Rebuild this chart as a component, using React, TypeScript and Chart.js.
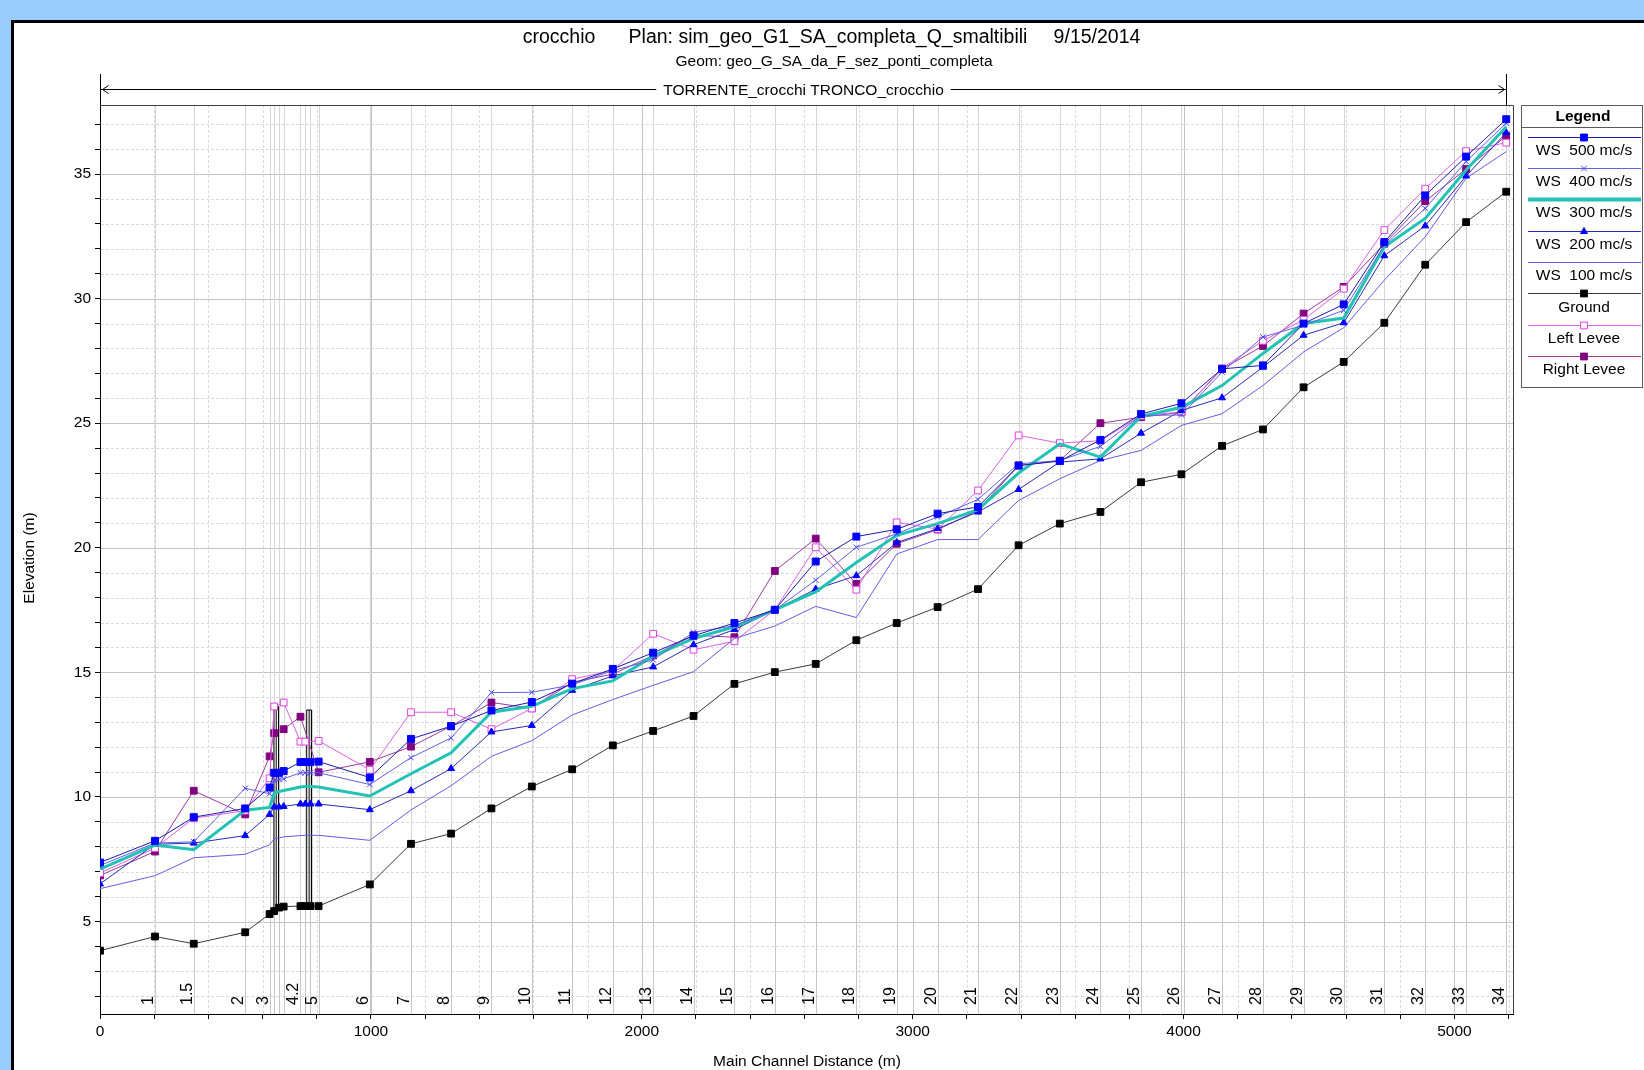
import React, { useEffect, useRef } from "react";
import { Chart, registerables } from "chart.js";

Chart.register(...registerables);

const FONT = "'Liberation Sans', Arial, sans-serif";

// ---------------- DATA ----------------
// Main channel distance of each river station (m)
const stations = [0, 203, 346, 536, 626, 643, 661, 678, 740, 758, 777, 807, 996, 1148, 1296, 1445, 1594, 1743, 1893, 2042, 2191, 2342, 2491, 2642, 2792, 2941, 3092, 3241, 3391, 3543, 3693, 3843, 3992, 4142, 4293, 4443, 4591, 4741, 4892, 5043, 5191];
const stationLabels = ["", "1", "1.5", "2", "3", "", "", "", "4.2", "", "", "5", "6", "7", "8", "9", "10", "11", "12", "13", "14", "15", "16", "17", "18", "19", "20", "21", "22", "23", "24", "25", "26", "27", "28", "29", "30", "31", "32", "33", "34"];

const ws500 = [7.37, 8.24, 9.19, 9.54, 10.38, 10.97, 10.97, 11.04, 11.40, 11.40, 11.40, 11.42, 10.78, 12.33, 12.84, 13.47, 13.81, 14.55, 15.14, 15.79, 16.47, 16.98, 17.51, 19.45, 20.45, 20.74, 21.37, 21.64, 23.30, 23.48, 24.33, 25.37, 25.80, 27.18, 27.32, 29.00, 29.77, 32.27, 34.14, 35.70, 37.20];
const ws400 = [7.25, 8.15, 8.20, 10.35, 10.13, 10.65, 10.70, 10.73, 10.97, 10.97, 10.97, 10.97, 10.50, 11.58, 12.37, 14.19, 14.20, 14.50, 15.07, 15.50, 16.61, 16.87, 17.50, 18.70, 20.02, 20.56, 21.24, 21.94, 23.37, 23.50, 24.07, 25.31, 25.33, 27.05, 28.46, 28.93, 29.53, 32.14, 33.62, 35.50, 37.04];
const ws300 = [7.10, 8.07, 7.88, 9.47, 9.58, 10.15, 10.22, 10.26, 10.40, 10.42, 10.42, 10.40, 10.04, 10.93, 11.77, 13.40, 13.64, 14.35, 14.66, 15.65, 16.36, 16.83, 17.51, 18.23, 19.41, 20.50, 20.97, 21.53, 23.00, 24.17, 23.64, 25.27, 25.64, 26.51, 27.80, 29.00, 29.22, 32.08, 33.22, 35.16, 36.90];
const ws200 = [6.51, 8.10, 8.15, 8.45, 9.30, 9.60, 9.60, 9.62, 9.72, 9.72, 9.72, 9.72, 9.49, 10.25, 11.14, 12.61, 12.87, 14.28, 14.86, 15.22, 16.11, 16.72, 17.51, 18.34, 18.88, 20.21, 20.77, 21.44, 22.34, 23.44, 23.57, 24.60, 25.51, 26.02, 27.25, 28.53, 29.03, 31.72, 32.92, 34.92, 36.66];
const ws100 = [6.32, 6.84, 7.56, 7.70, 8.08, 8.32, 8.36, 8.40, 8.45, 8.46, 8.46, 8.46, 8.26, 9.48, 10.45, 11.63, 12.26, 13.29, 13.91, 14.48, 15.03, 16.36, 16.86, 17.65, 17.20, 19.75, 20.33, 20.33, 21.90, 22.77, 23.50, 23.91, 24.91, 25.38, 26.51, 27.86, 28.83, 30.74, 32.48, 34.83, 35.90];
const ground = [3.83, 4.40, 4.11, 4.57, 5.30, 5.42, 5.56, 5.60, 5.62, 5.62, 5.62, 5.62, 6.49, 8.12, 8.53, 9.54, 10.42, 11.11, 12.07, 12.65, 13.25, 14.54, 15.01, 15.34, 16.29, 16.98, 17.62, 18.34, 20.10, 20.97, 21.44, 22.63, 22.95, 24.09, 24.75, 26.44, 27.46, 29.03, 31.36, 33.07, 34.29];
const leftLevee = [6.95, 7.95, 9.15, 9.45, 10.75, 13.63, null, 13.79, 12.22, 12.22, null, 12.25, 11.09, 13.40, 13.40, 12.72, 13.55, 14.73, 15.07, 16.55, 15.91, 16.25, 17.51, 20.02, 18.32, 21.02, 20.75, 22.30, 24.51, 24.20, 24.30, 25.30, 25.45, 27.20, 28.31, 29.15, 30.40, 32.75, 34.41, 35.92, 36.26];
const rightLevee = [6.85, 7.81, 10.25, 9.30, 11.63, 12.56, null, 12.72, 13.22, null, null, 10.99, 11.41, 12.02, 12.84, 13.79, 13.56, 14.60, 14.93, 15.68, 16.49, 16.41, 19.07, 20.37, 18.55, 20.16, 20.73, 21.50, 23.30, 23.50, 25.00, 25.24, 25.44, 27.18, 28.10, 29.40, 30.47, 32.20, 33.91, 35.20, 36.53];

// Bridges (m, m a.s.l.)
const bridgeLeft = [642, 763];
const bridgeRight = [659, 781];
const bridgeTop = [13.63, 13.49];
const bridgeBase = [5.44, 5.62];

const seriesNames = ["WS  500 mc/s", "WS  400 mc/s", "WS  300 mc/s", "WS  200 mc/s", "WS  100 mc/s", "Ground", "Left Levee", "Right Levee"];

const xTicks = [0, 200, 400, 600, 800, 1000, 1200, 1400, 1600, 1800, 2000, 2200, 2400, 2600, 2800, 3000, 3200, 3400, 3600, 3800, 4000, 4200, 4400, 4600, 4800, 5000, 5200];
const xLabelTicks = [0, 1000, 2000, 3000, 4000, 5000];
const yTicks = [2, 3, 4, 5, 6, 7, 8, 9, 10, 11, 12, 13, 14, 15, 16, 17, 18, 19, 20, 21, 22, 23, 24, 25, 26, 27, 28, 29, 30, 31, 32, 33, 34, 35, 36, 37];
const yLabelTicks = [5, 10, 15, 20, 25, 30, 35];

const titleParts = ["crocchio", "Plan: sim_geo_G1_SA_completa_Q_smaltibili", "9/15/2014"];
const subTitle = "Geom: geo_G_SA_da_F_sez_ponti_completa";
const reachTitle = "TORRENTE_crocchi TRONCO_crocchio";
const xTitle = "Main Channel Distance (m)";
const yTitle = "Elevation (m)";

// ---------------- STYLES ----------------
type Style = { line: string; width: number; marker: string; fill: string; stroke: string; radius: number };
const styles: Style[] = [
  { line: "#1c1ca8", width: 1, marker: "rect", fill: "#0000ff", stroke: "#0000ff", radius: 4.9 },
  { line: "#6262e4", width: 1, marker: "crossRot", fill: "#4040ff", stroke: "#4040ff", radius: 3.8 },
  { line: "#22c2b4", width: 3, marker: "none", fill: "#22c2b4", stroke: "#22c2b4", radius: 0 },
  { line: "#2a2ab8", width: 1, marker: "triangle", fill: "#0000ff", stroke: "#0000ff", radius: 4 },
  { line: "#6a5ae6", width: 1, marker: "none", fill: "#6a5ae6", stroke: "#6a5ae6", radius: 0 },
  { line: "#3a3a3a", width: 1, marker: "rect", fill: "#000000", stroke: "#000000", radius: 4.8 },
  { line: "#e060e6", width: 1, marker: "rect", fill: "#ffffff", stroke: "#e040e0", radius: 4.8 },
  { line: "#9a3a9e", width: 1, marker: "rect", fill: "#800080", stroke: "#800080", radius: 4.8 },
];

const W = 1644;
const H = 1070;

function drawMarker(ctx: CanvasRenderingContext2D, s: Style, x: number, y: number) {
  if (s.marker === "none") return;
  ctx.save();
  ctx.fillStyle = s.fill;
  ctx.strokeStyle = s.stroke;
  ctx.lineWidth = 1;
  const r = s.radius;
  if (s.marker === "rect") {
    const h = r * Math.SQRT1_2;
    ctx.beginPath();
    ctx.rect(x - h, y - h, 2 * h, 2 * h);
    ctx.fill();
    ctx.stroke();
  } else if (s.marker === "triangle") {
    ctx.beginPath();
    ctx.moveTo(x, y - r);
    ctx.lineTo(x + r * 0.866, y + r * 0.5);
    ctx.lineTo(x - r * 0.866, y + r * 0.5);
    ctx.closePath();
    ctx.fill();
    ctx.stroke();
  } else if (s.marker === "crossRot") {
    const d = r * Math.SQRT1_2;
    ctx.beginPath();
    ctx.moveTo(x - d, y - d);
    ctx.lineTo(x + d, y + d);
    ctx.moveTo(x - d, y + d);
    ctx.lineTo(x + d, y - d);
    ctx.stroke();
  }
  ctx.restore();
}

function txt(ctx: CanvasRenderingContext2D, s: string, x: number, y: number, size: number, align: CanvasTextAlign = "center", bold = false) {
  ctx.font = `${bold ? "bold " : ""}${size}px ${FONT}`;
  ctx.textAlign = align;
  ctx.textBaseline = "middle";
  ctx.fillStyle = "#000";
  ctx.fillText(s, x, y);
}

const decorPlugin = {
  id: "decor",
  beforeDraw(chart: any) {
    const ctx: CanvasRenderingContext2D = chart.ctx;
    ctx.save();
    ctx.fillStyle = "#99ccff";
    ctx.fillRect(0, 0, W, H);
    ctx.fillStyle = "#ffffff";
    ctx.fillRect(13, 22, W, H);
    ctx.fillStyle = "#000000";
    ctx.fillRect(11, 20, 3, H);
    ctx.fillRect(11, 20, W, 3);
    ctx.restore();
  },
  beforeDatasetsDraw(chart: any) {
    const ctx: CanvasRenderingContext2D = chart.ctx;
    const { left, right, top, bottom } = chart.chartArea;
    const xs = chart.scales.x;
    const ys = chart.scales.y;
    ctx.save();
    ctx.lineWidth = 1;
    // horizontal grid
    yTicks.forEach((v) => {
      const py = Math.round(ys.getPixelForValue(v)) + 0.5;
      const major = yLabelTicks.includes(v);
      ctx.strokeStyle = major ? "#c4c4c4" : "#dadada";
      ctx.setLineDash(major ? [] : [3, 2]);
      ctx.beginPath();
      ctx.moveTo(left + 1, py);
      ctx.lineTo(right, py);
      ctx.stroke();
    });
    // vertical grid
    xTicks.forEach((v) => {
      if (v === 0) return;
      const px = Math.round(xs.getPixelForValue(v)) + 0.5;
      const major = xLabelTicks.includes(v);
      ctx.strokeStyle = major ? "#c4c4c4" : "#dadada";
      ctx.setLineDash(major ? [] : [3, 2]);
      ctx.beginPath();
      ctx.moveTo(px, top);
      ctx.lineTo(px, bottom);
      ctx.stroke();
    });
    ctx.setLineDash([]);
    // station lines
    stations.forEach((s, i) => {
      if (s === 0) return;
      const px = Math.round(xs.getPixelForValue(s)) + 0.5;
      const gy = ys.getPixelForValue(ground[i]);
      ctx.strokeStyle = "#d6d6d6";
      ctx.beginPath();
      ctx.moveTo(px, top);
      ctx.lineTo(px, gy);
      ctx.stroke();
      ctx.strokeStyle = "#c6c6c6";
      ctx.beginPath();
      ctx.moveTo(px, gy);
      ctx.lineTo(px, bottom);
      ctx.stroke();
    });
    // station labels
    ctx.fillStyle = "#000";
    ctx.font = `16px ${FONT}`;
    ctx.textAlign = "left";
    ctx.textBaseline = "alphabetic";
    stations.forEach((s, i) => {
      const lab = stationLabels[i];
      if (!lab) return;
      const px = xs.getPixelForValue(s);
      ctx.save();
      ctx.translate(px - 2, bottom - 9);
      ctx.rotate(-Math.PI / 2);
      ctx.fillText(lab, 0, 0);
      ctx.restore();
    });
    ctx.restore();
  },
  afterDraw(chart: any) {
    const ctx: CanvasRenderingContext2D = chart.ctx;
    const { left, right, top, bottom } = chart.chartArea;
    const xs = chart.scales.x;
    ctx.save();
    // frame top/right
    ctx.strokeStyle = "#404040";
    ctx.lineWidth = 1;
    ctx.beginPath();
    ctx.moveTo(left, top + 0.5);
    ctx.lineTo(right + 0.5, top + 0.5);
    ctx.lineTo(right + 0.5, bottom);
    ctx.stroke();

    // titles
    txt(ctx, titleParts[0], 559, 38, 19.5);
    txt(ctx, titleParts[1], 828, 38, 19.5);
    txt(ctx, titleParts[2], 1097, 38, 19.5);
    txt(ctx, subTitle, 834, 62, 15.5);

    // reach annotation
    const x0 = Math.round(xs.getPixelForValue(stations[0])) + 0.5;
    const x1 = Math.round(xs.getPixelForValue(stations[stations.length - 1])) + 0.5;
    const ry = 89.5;
    ctx.strokeStyle = "#000";
    ctx.beginPath();
    ctx.moveTo(x0, 74);
    ctx.lineTo(x0, top);
    ctx.moveTo(x1, 74);
    ctx.lineTo(x1, top);
    ctx.moveTo(x0, ry);
    ctx.lineTo(x1, ry);
    ctx.moveTo(x0 + 8, ry - 4);
    ctx.lineTo(x0 + 2, ry);
    ctx.lineTo(x0 + 8, ry + 4);
    ctx.moveTo(x1 - 8, ry - 4);
    ctx.lineTo(x1 - 2, ry);
    ctx.lineTo(x1 - 8, ry + 4);
    ctx.stroke();
    ctx.font = `15.5px ${FONT}`;
    const tw = ctx.measureText(reachTitle).width;
    const cx = (x0 + x1) / 2;
    ctx.fillStyle = "#fff";
    ctx.fillRect(cx - tw / 2 - 7, ry - 9, tw + 14, 18);
    txt(ctx, reachTitle, cx, ry + 1, 15.5);

    // axis titles
    txt(ctx, xTitle, 807, 1062, 15.5);
    ctx.save();
    ctx.translate(30, 558);
    ctx.rotate(-Math.PI / 2);
    txt(ctx, yTitle, 0, 0, 15.5);
    ctx.restore();

    // legend
    const L = { left: 1521.5, top: 105.5, right: 1642.5, bottom: 387.5 };
    ctx.strokeStyle = "#5a5a5a";
    ctx.lineWidth = 1;
    ctx.strokeRect(L.left, L.top, L.right - L.left, L.bottom - L.top);
    txt(ctx, "Legend", 1583, 117, 15.5, "center", true);
    ctx.beginPath();
    ctx.moveTo(L.left, 127.5);
    ctx.lineTo(L.right, 127.5);
    ctx.stroke();
    seriesNames.forEach((name, i) => {
      const st = styles[i];
      const ly = 136.5 + i * 31.35;
      ctx.strokeStyle = st.line;
      ctx.lineWidth = st.width === 3 ? 4 : 1;
      ctx.beginPath();
      ctx.moveTo(1528, Math.round(ly) + 0.5);
      ctx.lineTo(1641, Math.round(ly) + 0.5);
      ctx.stroke();
      drawMarker(ctx, st, 1584, Math.round(ly) + 0.5);
      txt(ctx, name, 1584, ly + 14, 15.5);
    });
    ctx.restore();
  },
};

const toPoints = (ys: (number | null)[]) => stations.map((x, i) => ({ x, y: ys[i] }));

function bridgePoints() {
  const pts: { x: number; y: number | null }[] = [];
  bridgeLeft.forEach((l, i) => {
    const r = bridgeRight[i];
    const m = (l + r) / 2;
    pts.push({ x: l, y: bridgeBase[i] }, { x: l, y: bridgeTop[i] }, { x: r, y: bridgeTop[i] }, { x: r, y: bridgeBase[i] }, { x: r, y: null });
    pts.push({ x: m, y: bridgeBase[i] }, { x: m, y: bridgeTop[i] }, { x: m, y: null });
  });
  return pts;
}

export default function App() {
  const ref = useRef<HTMLCanvasElement | null>(null);
  useEffect(() => {
    if (!ref.current) return;
    const series = [ws500, ws400, ws300, ws200, ws100, ground, leftLevee, rightLevee];
    const datasets: any[] = series.map((ys, i) => {
      const st = styles[i];
      return {
        label: seriesNames[i],
        data: toPoints(ys),
        borderColor: st.line,
        borderWidth: st.width,
        backgroundColor: st.fill,
        pointStyle: st.marker === "none" ? "circle" : st.marker,
        pointRadius: st.radius,
        pointBackgroundColor: st.fill,
        pointBorderColor: st.stroke,
        pointBorderWidth: 1,
        tension: 0,
        spanGaps: true,
        fill: false,
      };
    });
    datasets.push({
      label: "Bridge",
      data: bridgePoints(),
      borderColor: "#000",
      borderWidth: 1,
      pointRadius: 0,
      spanGaps: false,
      tension: 0,
      fill: false,
    });

    const chart = new Chart(ref.current, {
      type: "line",
      data: { datasets },
      options: {
        responsive: false,
        animation: false,
        devicePixelRatio: 1,
        layout: { padding: { left: 0, top: 105, right: 131, bottom: 0 } },
        plugins: { legend: { display: false }, tooltip: { enabled: false }, title: { display: false } },
        scales: {
          x: {
            type: "linear",
            min: 0,
            max: 5216,
            afterBuildTicks: (s: any) => {
              s.ticks = xTicks.map((v) => ({ value: v }));
            },
            afterFit: (s: any) => {
              s.height = 56;
            },
            ticks: {
              autoSkip: false,
              maxRotation: 0,
              minRotation: 0,
              padding: 3,
              color: "#000",
              font: { family: FONT, size: 15.5 },
              callback: (v: any) => (xLabelTicks.includes(Number(v)) ? String(v) : ""),
            },
            grid: { drawOnChartArea: false, drawTicks: true, tickLength: 5, tickColor: "#000" },
            border: { display: true, color: "#000", width: 1 },
          },
          y: {
            type: "linear",
            min: 1.29,
            max: 37.77,
            afterBuildTicks: (s: any) => {
              s.ticks = yTicks.map((v) => ({ value: v }));
            },
            afterFit: (s: any) => {
              s.width = 100;
            },
            ticks: {
              autoSkip: false,
              padding: 4,
              color: "#000",
              font: { family: FONT, size: 15.5 },
              callback: (v: any) => (yLabelTicks.includes(Number(v)) ? String(v) : ""),
            },
            grid: { drawOnChartArea: false, drawTicks: true, tickLength: 5, tickColor: "#000" },
            border: { display: true, color: "#000", width: 1 },
          },
        },
      } as any,
      plugins: [decorPlugin as any],
    });
    return () => chart.destroy();
  }, []);

  return (
    <div style={{ position: "absolute", left: 0, top: 0, width: W, height: H }}>
      <canvas ref={ref} width={W} height={H} style={{ display: "block", width: W, height: H }} />
    </div>
  );
}
